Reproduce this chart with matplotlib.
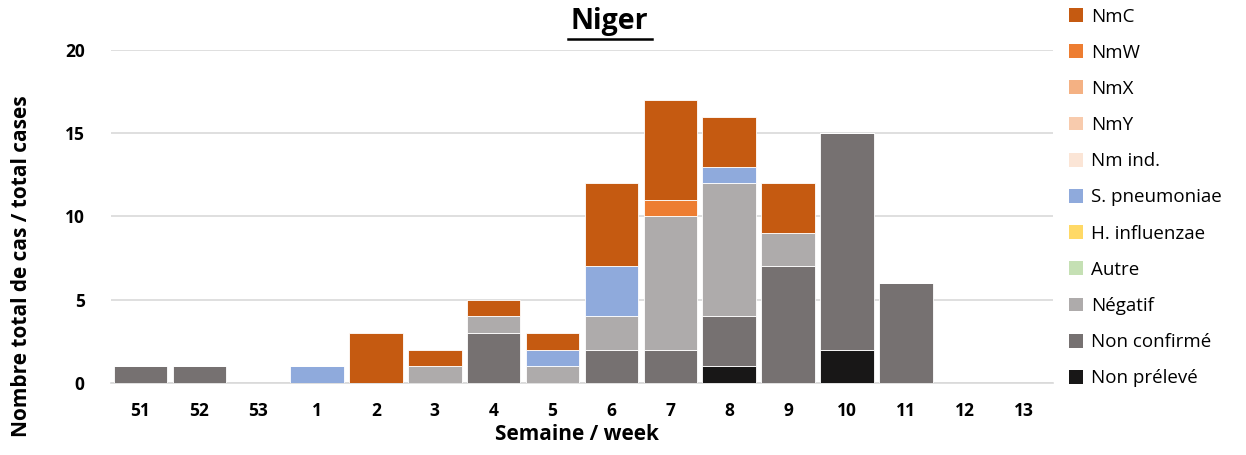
import matplotlib
matplotlib.use("Agg")
import matplotlib.pyplot as plt
import numpy as np

plt.rcParams['font.family'] = ['Open Sans', 'DejaVu Sans']

weeks = ["51", "52", "53", "1", "2", "3", "4", "5", "6", "7", "8", "9", "10", "11", "12", "13"]

# stacking order bottom -> top
non_preleve   = [0, 0, 0, 0, 0, 0, 0, 0, 0, 0, 1, 0, 2, 0, 0, 0]
non_confirme  = [1, 1, 0, 0, 0, 0, 3, 0, 2, 2, 3, 7, 13, 6, 0, 0]
negatif       = [0, 0, 0, 0, 0, 1, 1, 1, 2, 8, 8, 2, 0, 0, 0, 0]
autre         = [0] * 16
h_influenzae  = [0] * 16
s_pneumoniae  = [0, 0, 0, 1, 0, 0, 0, 1, 3, 0, 1, 0, 0, 0, 0, 0]
nm_ind        = [0] * 16
nmy           = [0] * 16
nmx           = [0] * 16
nmw           = [0, 0, 0, 0, 0, 0, 0, 0, 0, 1, 0, 0, 0, 0, 0, 0]
nmc           = [0, 0, 0, 0, 3, 1, 1, 1, 5, 6, 3, 3, 0, 0, 0, 0]

series = [
    ("Non prélevé", non_preleve, "#181717"),
    ("Non confirmé", non_confirme, "#767171"),
    ("Négatif", negatif, "#AEABAB"),
    ("Autre", autre, "#C5E0B4"),
    ("H. influenzae", h_influenzae, "#FFD966"),
    ("S. pneumoniae", s_pneumoniae, "#8FAADC"),
    ("Nm ind.", nm_ind, "#FBE5D6"),
    ("NmY", nmy, "#F8CBAD"),
    ("NmX", nmx, "#F4B183"),
    ("NmW", nmw, "#ED7D31"),
    ("NmC", nmc, "#C55A11"),
]

fig = plt.figure(figsize=(12.46, 4.55), dpi=100)
ax = fig.add_axes([111/1246, 1 - 383/455, (1053 - 111)/1246, (383 - 50)/455])

x = np.arange(len(weeks))
bottom = np.zeros(len(weeks))
handles = []
for name, vals, col in series:
    v = np.array(vals, dtype=float)
    b = ax.bar(x, v, bottom=bottom, width=0.91, color=col, edgecolor="white",
               linewidth=0.6, label=name, zorder=3)
    handles.append(b)
    bottom += v

ax.set_xlim(-0.5, len(weeks) - 0.5)
ax.set_ylim(0, 20)
ax.set_yticks([0, 5, 10, 15, 20])
ax.set_xticks(x)
ax.set_xticklabels(weeks)
ax.grid(axis="y", color="#D9D9D9", linewidth=1.2, zorder=0)
for s in ["top", "right", "left"]:
    ax.spines[s].set_visible(False)
ax.spines["bottom"].set_color("#D9D9D9")
ax.spines["bottom"].set_linewidth(1.2)
ax.tick_params(axis="both", length=0, labelsize=12.5)
ax.tick_params(axis="x", pad=14)
ax.tick_params(axis="y", pad=19)
for lab in ax.get_xticklabels() + ax.get_yticklabels():
    lab.set_fontweight("bold")

fig.text(577/1246, 1 - 434/455, "Semaine / week", fontsize=15, fontweight="bold",
         ha="center", va="center")
fig.text(22/1246, 1 - 266/455, "Nombre total de cas / total cases", fontsize=15,
         fontweight="bold", ha="center", va="center", rotation=90)

fig.text(609/1246, 1 - 22/455, "Niger", fontsize=20.5, fontweight="bold",
         ha="center", va="center")
fig.add_artist(plt.Line2D([568/1246, 652/1246], [1 - 39/455, 1 - 39/455],
                          color="black", linewidth=1.8))

leg = fig.legend(handles[::-1], [s[0] for s in series][::-1],
                 loc="upper left", bbox_to_anchor=(1061/1246, 1 - 0/455),
                 frameon=False, fontsize=13.5, handlelength=0.75, handleheight=0.75,
                 handletextpad=0.45, labelspacing=0.97, borderaxespad=0)
for h in leg.legend_handles:
    h.set_linewidth(0)

fig.savefig("out.png", dpi=100)
